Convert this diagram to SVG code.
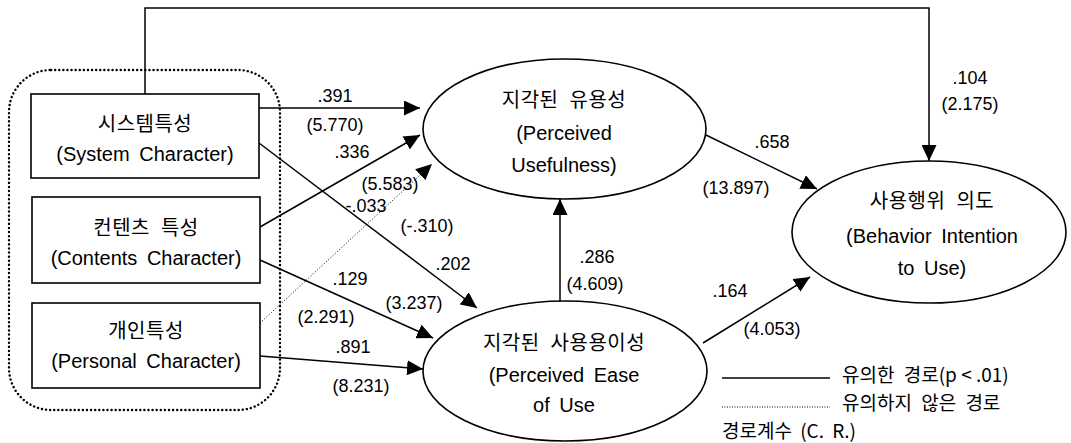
<svg xmlns="http://www.w3.org/2000/svg" width="1071" height="443" viewBox="0 0 1071 443">
<style>
.nd{fill:#fff;stroke:#000;stroke-width:1.6}
.ln{fill:none;stroke:#000;stroke-width:1.5}
.dt{fill:none;stroke:#000;stroke-width:1;stroke-dasharray:1 2}
.ko{font-family:"Noto Sans CJK KR","Liberation Sans",sans-serif;font-size:20px;fill:#000;text-anchor:middle;letter-spacing:0.5px;word-spacing:6px}
.en{font-family:"Liberation Sans",Arial,sans-serif;font-size:20px;fill:#000;text-anchor:middle;word-spacing:4px}
.nm{font-family:"Liberation Sans",Arial,sans-serif;font-size:18px;fill:#000;text-anchor:middle}
.lg{font-family:"Noto Sans CJK KR","Liberation Sans",sans-serif;font-size:19px;fill:#000;word-spacing:5px}
</style>
<defs>
<marker id="ah" markerUnits="userSpaceOnUse" markerWidth="17" markerHeight="15" viewBox="0 0 17 15" refX="16" refY="7.5" orient="auto">
<path d="M0,0 L16,7.5 L0,15 Z" fill="#000"/>
</marker>
</defs>
<rect x="0" y="0" width="1071" height="443" fill="#fff"/>
<g id="group-box">
<rect x="9" y="70" width="271" height="340" rx="42" ry="42" fill="none" stroke="#000" stroke-width="2.4" stroke-linecap="round" stroke-dasharray="0.1 4"/>
</g>
<g id="connectors">
<polyline class="ln" points="145,94 145,8 929,8 929,161" marker-end="url(#ah)"/>
<line class="ln" x1="259" y1="108" x2="420" y2="108" marker-end="url(#ah)"/>
<line class="ln" x1="260" y1="227" x2="420" y2="135" marker-end="url(#ah)"/>
<line class="dt" x1="260" y1="323" x2="432" y2="164" marker-end="url(#ah)"/>
<line class="ln" x1="259" y1="143" x2="477" y2="308" marker-end="url(#ah)"/>
<line class="ln" x1="260" y1="260" x2="433" y2="338" marker-end="url(#ah)"/>
<line class="ln" x1="260" y1="356" x2="423" y2="369" marker-end="url(#ah)"/>
<line class="ln" x1="560" y1="302" x2="560" y2="199" marker-end="url(#ah)"/>
<line class="ln" x1="706" y1="135" x2="817" y2="189" marker-end="url(#ah)"/>
<line class="ln" x1="703" y1="343" x2="810" y2="277" marker-end="url(#ah)"/>
<text class="nm" x="335" y="102">.391</text>
<text class="nm" x="335" y="131">(5.770)</text>
<text class="nm" x="352" y="158">.336</text>
<text class="nm" x="390" y="190">(5.583)</text>
<text class="nm" x="366" y="212">-.033</text>
<text class="nm" x="427" y="232">(-.310)</text>
<text class="nm" x="453" y="270">.202</text>
<text class="nm" x="350" y="285">.129</text>
<text class="nm" x="414" y="309">(3.237)</text>
<text class="nm" x="326" y="323">(2.291)</text>
<text class="nm" x="353" y="353">.891</text>
<text class="nm" x="361" y="392">(8.231)</text>
<text class="nm" x="597" y="263">.286</text>
<text class="nm" x="595" y="290">(4.609)</text>
<text class="nm" x="772" y="148">.658</text>
<text class="nm" x="736" y="194">(13.897)</text>
<text class="nm" x="730" y="297">.164</text>
<text class="nm" x="772" y="335">(4.053)</text>
<text class="nm" x="970" y="84">.104</text>
<text class="nm" x="970" y="110">(2.175)</text>
</g>
<g id="system">
<rect class="nd" x="31" y="94" width="228" height="84"/>
<text class="ko" x="145" y="131">시스템특성</text>
<text class="en" x="145" y="161">(System Character)</text>
</g>
<g id="contents">
<rect class="nd" x="32" y="197" width="228" height="86"/>
<text class="ko" x="146" y="235">컨텐츠 특성</text>
<text class="en" x="146" y="265">(Contents Character)</text>
</g>
<g id="personal">
<rect class="nd" x="32" y="303" width="228" height="85"/>
<text class="ko" x="146" y="338">개인특성</text>
<text class="en" x="146" y="368">(Personal Character)</text>
</g>
<g id="usefulness">
<ellipse class="nd" cx="564.5" cy="129" rx="141.5" ry="70"/>
<text class="ko" x="564" y="107">지각된 유용성</text>
<text class="en" x="564" y="140">(Perceived</text>
<text class="en" x="564" y="172">Usefulness)</text>
</g>
<g id="ease">
<ellipse class="nd" cx="565" cy="371" rx="142" ry="70"/>
<text class="ko" x="564" y="350">지각된 사용용이성</text>
<text class="en" x="564" y="382">(Perceived Ease</text>
<text class="en" x="564" y="412">of Use</text>
</g>
<g id="intention">
<ellipse class="nd" cx="929" cy="232" rx="137" ry="71"/>
<text class="ko" x="932" y="208">사용행위 의도</text>
<text class="en" x="932" y="243">(Behavior Intention</text>
<text class="en" x="932" y="275">to Use)</text>
</g>
<g id="legend">
<line x1="722" y1="378" x2="830" y2="378" stroke="#000" stroke-width="1.5"/>
<line x1="722" y1="407" x2="830" y2="407" stroke="#000" stroke-width="1" stroke-dasharray="1 1.5"/>
<text class="lg" x="842" y="382">유의한 경로<tspan style="word-spacing:0px">(p &lt; .01)</tspan></text>
<text class="lg" x="842" y="410">유의하지 않은 경로</text>
<text class="lg" x="722" y="438" style="word-spacing:4px">경로계수 (C. R.)</text>
</g>
</svg>
